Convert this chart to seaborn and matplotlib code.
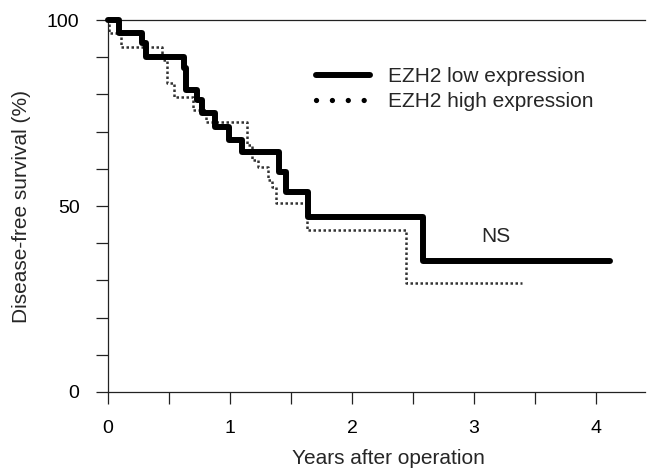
import pandas as pd
import matplotlib
matplotlib.use("Agg")
import matplotlib.pyplot as plt
from matplotlib.lines import Line2D
from matplotlib.ticker import MultipleLocator
import seaborn as sns

# -----------------------------
# Data
# -----------------------------
low_years = [0, 0.09, 0.28, 0.31, 0.62, 0.64, 0.73, 0.77, 0.88, 0.99, 1.10, 1.40, 1.46, 1.64, 2.58, 4.11]
low_surv = [100, 96.4, 93.7, 90.1, 87.0, 81.2, 78.5, 74.9, 71.3, 67.7, 64.6, 59.2, 53.8, 47.0, 35.3, 35.3]

high_years = [0, 0.01, 0.11, 0.44, 0.48, 0.54, 0.70, 0.80, 1.14, 1.18, 1.23, 1.31, 1.34, 1.38, 1.63, 2.44, 3.39]
high_surv = [100, 96.4, 92.8, 89.2, 83.1, 79.4, 75.8, 72.7, 66.4, 62.4, 60.6, 57.0, 55.2, 50.7, 43.5, 29.2, 29.2]

labels = ["EZH2 low expression", "EZH2 high expression"]

low = pd.DataFrame({"years": low_years, "surv": low_surv})
high = pd.DataFrame({"years": high_years, "surv": high_surv})

sns.set_style("ticks")
plt.rcParams["font.family"] = ["Liberation Sans", "DejaVu Sans"]

fig = plt.figure(figsize=(6.48, 4.69), dpi=100)
ax = fig.add_axes([108 / 648, 1 - 392 / 469, 537 / 648, 372 / 469])

# -----------------------------
# Survival curves
# -----------------------------
sns.lineplot(data=high, x="years", y="surv", ax=ax, estimator=None, sort=False,
             drawstyle="steps-post", color="#333333", lw=1.8,
             linestyle=(0, (1, 1)), clip_on=False, zorder=2)
sns.lineplot(data=low, x="years", y="surv", ax=ax, estimator=None, sort=False,
             drawstyle="steps-post", color="black", lw=4.3,
             solid_joinstyle="round", solid_capstyle="round",
             clip_on=False, zorder=3)

ax.text(3.18, 41.7, "NS", ha="center", va="center", fontsize=15)

# -----------------------------
# Axes
# -----------------------------
ax.set_xlim(0, 4.4)
ax.set_ylim(0, 100)
ax.set_xticks([0, 1, 2, 3, 4])
ax.xaxis.set_minor_locator(MultipleLocator(0.5))
ax.set_yticks([0, 50, 100])
ax.yaxis.set_minor_locator(MultipleLocator(10))
ax.tick_params(axis="both", which="both", length=8.5, width=0.9, direction="out",
               pad=12, colors="#222222", labelcolor="black", labelsize=14)

for side in ["left", "bottom", "top"]:
    ax.spines[side].set_linewidth(0.9)
    ax.spines[side].set_color("#222222")
ax.spines["right"].set_visible(False)

ax.set_xlabel("Years after operation", fontsize=15)
ax.set_ylabel("Disease-free survival (%)", fontsize=15)
ax.xaxis.set_label_coords(0.523, -0.152)
ax.yaxis.set_label_coords(-0.143, 0.5)

# -----------------------------
# Legend
# -----------------------------
handles = [
    Line2D([], [], color="black", lw=4.3),
    Line2D([], [], color="black", lw=3.8, linestyle=(0, (0.01, 3.0)),
           dash_capstyle="round"),
]
ax.legend(handles, labels, loc="upper left", bbox_to_anchor=(0.387, 0.873),
          frameon=False, handlelength=2.6, handletextpad=0.85,
          labelspacing=0.3, borderpad=0, borderaxespad=0, fontsize=15)

fig.savefig("out.png", dpi=100)
